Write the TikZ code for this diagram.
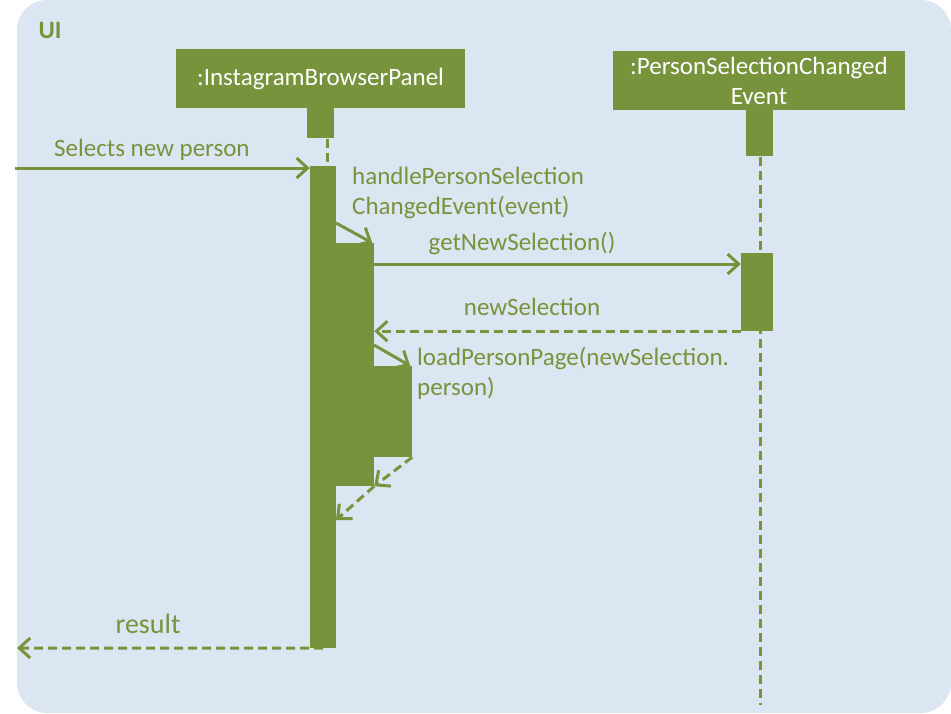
\documentclass[tikz,border=0pt]{standalone}
\usepackage{fontspec}
\setmainfont{Carlito}
\usetikzlibrary{arrows.meta, positioning}
\definecolor{olive}{RGB}{119,147,60}
\definecolor{paneblue}{RGB}{220,230,242}

\begin{document}
\begin{tikzpicture}[
  x=1pt, y=-1pt,
  font=\fontsize{25}{30}\selectfont,
  objbox/.style={
    fill=olive,
    text=white,
    align=center,
    inner sep=0pt,
    minimum height=59pt
    },
  actbar/.style={
    fill=olive,
    inner sep=0pt,
    minimum width=#1
    },
  lifeline/.style={draw=olive, line width=3pt, dash pattern=on 9pt off 5pt},
  msg/.style={draw=olive, line width=3pt, -{Straight Barb[length=11pt,width=20pt]}},
  reply/.style={msg, dash pattern=on 9pt off 5pt},
  lbl/.style={text=olive, align=left, inner sep=0pt}
]

\useasboundingbox (0,0) rectangle (951,713);
\fill[paneblue, rounded corners=30pt] (17,0) rectangle (951,713);

\node[lbl, font=\fontsize{25}{30}\selectfont\bfseries] (pkg) at (50,30) {UI};

% objects
\node[objbox, minimum width=289pt] (panel) at (320.5,78.5) {:InstagramBrowserPanel};
\node[actbar=27pt, minimum height=30pt, below=0pt of panel] (panelstem) {};

\node[objbox, minimum width=292pt] (event) at (759,80.5)
  {:PersonSelectionChanged\\Event};
\node[actbar=27pt, minimum height=46pt, below=0pt of event] (eventstem) {};

% lifelines
\coordinate (panelend) at (327,166);
\coordinate (eventend) at (760,705);
\draw[lifeline] (panelstem.south -| panelend) -- (panelend);
\draw[lifeline] (eventstem.south -| eventend) -- (eventend);

% activations
\node[actbar=26pt, minimum height=482pt] (bar1) at (323,407) {};
\node[actbar=38pt, minimum height=243pt] (bar2) at (355,364.5) {};
\node[actbar=38pt, minimum height=91pt] (bar3) at (393,411.5) {};
\node[actbar=32pt, minimum height=78pt] (bar4) at (757,292) {};

% messages
\coordinate (userin) at (15,168);
\draw[msg] (userin) -- (userin -| bar1.west);
\node[lbl, anchor=west] (selectslbl) at (54,150) {Selects new person};

\coordinate (handlestart) at (336,223);
\draw[msg] (handlestart) -- ([xshift=-2pt]bar2.north east);
\node[lbl, anchor=west] (handlelbl) at (352,193)
  {handlePersonSelection\\ChangedEvent(event)};

\coordinate (getstart) at (374,264);
\draw[msg] (getstart) -- (getstart -| bar4.west);
\node[lbl] (getlbl) at (522,243) {getNewSelection()};

\draw[reply] (bar4.south west) -- (bar4.south west -| bar2.east);
\node[lbl] (newsellbl) at (532,307) {newSelection};

\coordinate (loadstart) at (374,345);
\draw[msg] (loadstart) -- ([xshift=-2pt]bar3.north east);
\node[lbl, anchor=west] (loadlbl) at (417,373.5)
  {loadPersonPage(newSelection.\\person)};

\draw[reply] (bar3.south east) -- (bar2.south east);
\coordinate (handleend) at (336,520);
\draw[reply] (bar2.south east) -- (handleend);

\coordinate (userout) at (17,648);
\draw[reply] (bar1.south) -- (userout);
\node[lbl, font=\fontsize{28}{30}\selectfont] (resultlbl) at (148,624) {result};

\end{tikzpicture}
\end{document}
